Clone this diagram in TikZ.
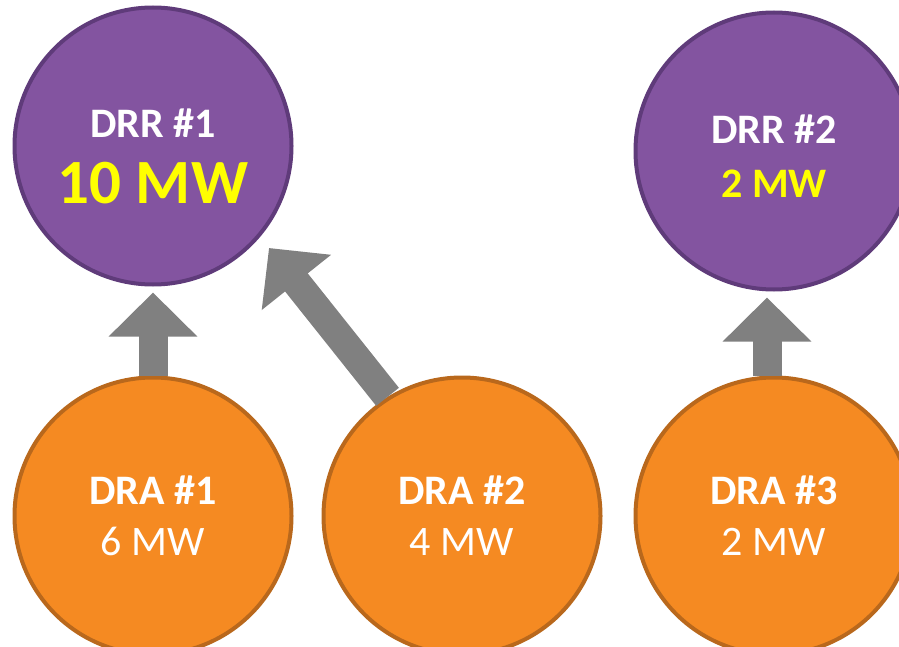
\documentclass[tikz,border=0pt]{standalone}
\usepackage{fontspec}
\setmainfont{Carlito}
\usetikzlibrary{arrows.meta, positioning}
\definecolor{drrfill}{HTML}{8354A0}
\definecolor{drrline}{HTML}{5F3B7A}
\definecolor{drafill}{HTML}{F58A22}
\definecolor{draline}{HTML}{B9681C}
\definecolor{mwyellow}{HTML}{FFFF00}
\definecolor{arrowgray}{HTML}{808080}

\begin{document}
\begin{tikzpicture}[x=1pt, y=-1pt,
                drr/.style={circle, draw=drrline, fill=drrfill, line width=4pt, minimum size=277pt, inner sep=0pt, align=center, text=white, font=\bfseries\fontsize{42}{50}\selectfont},
                dra/.style={circle, draw=draline, fill=drafill, line width=4pt, minimum size=277pt, inner sep=0pt, align=center, text=white, font=\fontsize{42}{51}\selectfont},
                arrow/.style={-{Triangle[width=86pt, length=44pt]}, line width=29pt, draw=arrowgray}]

            \useasboundingbox (0,0) rectangle (899,647);
            \clip (0,0) rectangle (899,647);

            \node[dra] (dra1) at (153,516) {\textbf{DRA \#1}\\6 MW};
            \node[dra, right=28pt of dra1] (dra2) {\textbf{DRA \#2}\\4 MW};
            \node[dra, right=31pt of dra2] (dra3) {\textbf{DRA \#3}\\2 MW};

            \node[drr, text height=115pt, above=89pt of dra1] (drr1) {DRR \#1\\[16pt]\fontsize{63}{62}\selectfont\textcolor{mwyellow}{10 MW}};
            \node[drr, text height=93pt, above=84pt of dra3] (drr2) {DRR \#2\\[4pt]\textcolor{mwyellow}{2 MW}};

            % tip of the slanted arrow
            \coordinate (tip2) at (269,248);

            \draw[arrow, shorten >=6pt] (dra1.north) -- (drr1.south);
            \draw[arrow] (dra2.122) -- (tip2);
            \draw[arrow, shorten >=6pt] ([xshift=-7pt]dra3.north) -- ([xshift=-7pt]drr2.south);

        \end{tikzpicture}
\end{document}
